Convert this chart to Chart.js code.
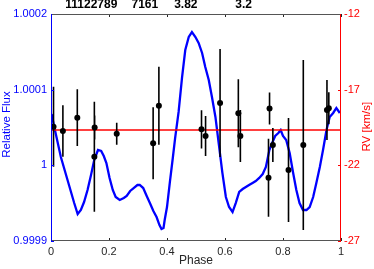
<!DOCTYPE html>
<html><head><meta charset="utf-8">
<script src="https://cdn.jsdelivr.net/npm/chart.js@4/dist/chart.umd.min.js"></script>
<style>html,body{margin:0;padding:0;background:#fff}canvas{display:block}</style>
</head><body>
<canvas id="c" width="374" height="269"></canvas>
<script>
const fluxPhase = [0.002,0.012,0.034,0.057,0.080,0.092,0.103,0.114,0.126,0.138,0.149,0.162,0.173,0.182,0.191,0.202,0.213,0.223,0.237,0.251,0.261,0.273,0.285,0.298,0.306,0.318,0.330,0.341,0.353,0.364,0.374,0.381,0.388,0.392,0.400,0.410,0.420,0.428,0.440,0.452,0.463,0.475,0.486,0.498,0.509,0.521,0.532,0.544,0.555,0.567,0.579,0.591,0.603,0.614,0.626,0.637,0.649,0.661,0.672,0.683,0.695,0.706,0.718,0.730,0.741,0.753,0.764,0.773,0.784,0.792,0.800,0.811,0.823,0.835,0.846,0.857,0.869,0.881,0.892,0.904,0.915,0.927,0.938,0.950,0.961,0.973,0.984,0.996];
const fluxValues = [1.0000678,1.0000493,1.0000110,0.9999806,0.9999502,0.9999357,0.9999410,0.9999515,0.9999674,0.9999872,1.0000070,1.0000203,1.0000189,1.0000123,1.0000031,0.9999833,0.9999674,0.9999581,0.9999542,0.9999568,0.9999595,0.9999661,0.9999700,0.9999740,0.9999740,0.9999700,0.9999595,0.9999502,0.9999396,0.9999317,0.9999211,0.9999159,0.9999172,0.9999278,0.9999449,0.9999780,1.0000097,1.0000361,1.0000705,1.0001167,1.0001524,1.0001696,1.0001762,1.0001696,1.0001617,1.0001485,1.0001299,1.0001128,1.0000903,1.0000639,1.0000269,0.9999899,0.9999581,0.9999449,0.9999383,0.9999502,0.9999648,0.9999687,0.9999714,0.9999740,0.9999767,0.9999793,0.9999833,0.9999885,0.9999978,1.0000203,1.0000308,1.0000388,1.0000427,1.0000467,1.0000388,1.0000335,1.0000163,0.9999899,0.9999674,0.9999502,0.9999410,0.9999410,0.9999449,0.9999581,0.9999767,0.9999978,1.0000203,1.0000467,1.0000639,1.0000692,1.0000758,1.0000692];
const rvPhase = [0.0087,0.041,0.0907,0.1505,0.1495,0.2266,0.3522,0.372,0.519,0.533,0.583,0.646,0.653,0.7536,0.750,0.765,0.819,0.870,0.9516,0.958];
const rvValues = [-19.45,-19.73,-18.85,-19.50,-21.43,-19.91,-20.54,-18.06,-19.62,-20.06,-17.88,-18.56,-20.06,-18.24,-22.82,-20.66,-22.31,-20.66,-18.34,-18.23];
const rvErrors = [2.64,1.70,1.88,0.79,3.63,0.73,2.38,2.58,1.26,1.32,3.57,2.25,1.72,1.06,2.58,1.12,3.44,5.62,1.98,1.06];
const rvMean = -19.67;
const fluxTicks = [0.9999, 1, 1.0001, 1.0002];
const fluxTickLabels = ['0.9999', '1', '1.0001', '1.0002'];
const rvTicks = [-27, -22, -17, -12];
const rvTickLabels = ['-27', '-22', '-17', '-12'];
const phaseTicks = [0, 0.2, 0.4, 0.6, 0.8, 1];
const phaseTickLabels = ['0', '0.2', '0.4', '0.6', '0.8', '1'];
const topTickPos = [0.139, 0.3235, 0.465, 0.664];
const topTickLabels = ['11122789', '7161', '3.82', '3.2'];

Chart.defaults.font.family = '"Liberation Sans", Arial, sans-serif';

const errData = [];
rvPhase.forEach((p, i) => {
  errData.push({x: p, y: rvValues[i] - rvErrors[i]}, {x: p, y: rvValues[i] + rvErrors[i]}, {x: p, y: null});
});

const BLUE = '#0000ff', RED = '#ff0000', GRAY = '#262626';

const frame = {
  id: 'frame',
  afterDatasetsDraw(chart) {
    const {ctx, chartArea: a, scales} = chart;
    ctx.save();
    ctx.lineWidth = 1;
    const L = 3;
    ctx.strokeStyle = GRAY;
    phaseTicks.forEach(v => {
      const x = Math.round(scales.x.getPixelForValue(v)) + 0.5;
      ctx.beginPath(); ctx.moveTo(x, a.bottom); ctx.lineTo(x, a.bottom - L); ctx.stroke();
      ctx.beginPath(); ctx.moveTo(x, a.top); ctx.lineTo(x, a.top + L); ctx.stroke();
    });
    ctx.strokeStyle = BLUE;
    fluxTicks.forEach(v => {
      const y = Math.round(scales.y.getPixelForValue(v)) + 0.5;
      ctx.beginPath(); ctx.moveTo(a.left, y); ctx.lineTo(a.left + L, y); ctx.stroke();
    });
    ctx.strokeStyle = RED;
    rvTicks.forEach(v => {
      const y = Math.round(scales.y2.getPixelForValue(v)) + 0.5;
      ctx.beginPath(); ctx.moveTo(a.right, y); ctx.lineTo(a.right - L, y); ctx.stroke();
    });
    ctx.strokeStyle = '#555';
    ctx.beginPath(); ctx.moveTo(a.left, a.top + 0.5); ctx.lineTo(a.right, a.top + 0.5); ctx.stroke();
    ctx.beginPath(); ctx.moveTo(a.left, a.bottom - 0.5); ctx.lineTo(a.right, a.bottom - 0.5); ctx.stroke();
    ctx.strokeStyle = BLUE;
    ctx.beginPath(); ctx.moveTo(a.left + 0.5, a.top); ctx.lineTo(a.left + 0.5, a.bottom); ctx.stroke();
    ctx.strokeStyle = RED;
    ctx.beginPath(); ctx.moveTo(a.right - 0.5, a.top); ctx.lineTo(a.right - 0.5, a.bottom); ctx.stroke();
    ctx.font = '11.5px "Liberation Sans", Arial, sans-serif';
    ctx.textAlign = 'center'; ctx.textBaseline = 'middle';
    ctx.fillStyle = BLUE;
    ctx.save(); ctx.translate(6.5, 124.5); ctx.rotate(-Math.PI / 2); ctx.fillText('Relative Flux', 0, 0); ctx.restore();
    ctx.fillStyle = RED;
    ctx.save(); ctx.translate(366.5, 126.7); ctx.rotate(-Math.PI / 2); ctx.fillText('RV [km/s]', 0, 0); ctx.restore();
    ctx.fillStyle = GRAY;
    ctx.font = '12px "Liberation Sans", Arial, sans-serif';
    ctx.fillText('Phase', (a.left + a.right) / 2, 261);
    ctx.restore();
  }
};

function fixedTicks(vals) { return s => { s.ticks = vals.map(v => ({value: v})); }; }

new Chart(document.getElementById('c'), {
  type: 'line',
  data: {datasets: [
    {label: 'RV', data: rvPhase.map((p, i) => ({x: p, y: rvValues[i]})), yAxisID: 'y2', xAxisID: 'x', showLine: false,
     pointRadius: 3, pointBackgroundColor: '#000', pointBorderColor: '#000', pointBorderWidth: 0},
    {label: 'err', data: errData, yAxisID: 'y2', xAxisID: 'x', borderColor: '#000', borderWidth: 1.6, pointRadius: 0, spanGaps: false},
    {label: 'mean', data: [{x: 0, y: rvMean}, {x: 1, y: rvMean}], yAxisID: 'y2', xAxisID: 'x', borderColor: RED, borderWidth: 1.5, pointRadius: 0},
    {label: 'flux', data: fluxPhase.map((p, i) => ({x: p, y: fluxValues[i]})), yAxisID: 'y', xAxisID: 'x', borderColor: BLUE, borderWidth: 2.3, pointRadius: 0, tension: 0}
  ]},
  options: {
    responsive: false, animation: false, devicePixelRatio: 1,
    layout: {padding: 0},
    plugins: {legend: {display: false}, tooltip: {enabled: false}},
    scales: {
      x: {type: 'linear', position: 'bottom', min: 0, max: 1, afterBuildTicks: fixedTicks(phaseTicks),
          ticks: {callback: (v, i) => phaseTickLabels[i], color: GRAY, font: {size: 11}, padding: 4, maxRotation: 0, autoSkip: false},
          grid: {display: false, drawTicks: false}, border: {display: false}, afterFit: s => { s.height = 28; }},
      xTop: {type: 'linear', position: 'top', min: 0, max: 1, afterBuildTicks: fixedTicks(topTickPos),
          ticks: {callback: (v, i) => topTickLabels[i], color: '#000', font: {size: 12, weight: 'bold'}, padding: 2, maxRotation: 0, autoSkip: false},
          grid: {display: false, drawTicks: false}, border: {display: false}, afterFit: s => { s.height = 14; }},
      y: {type: 'linear', position: 'left', min: 0.9999, max: 1.0002, afterBuildTicks: fixedTicks(fluxTicks),
          ticks: {callback: (v, i) => fluxTickLabels[i], color: BLUE, font: {size: 11}, padding: 4, autoSkip: false},
          grid: {display: false, drawTicks: false}, border: {display: false}, afterFit: s => { s.width = 51; }},
      y2: {type: 'linear', position: 'right', min: -27, max: -12, afterBuildTicks: fixedTicks(rvTicks),
          ticks: {callback: (v, i) => rvTickLabels[i], color: RED, font: {size: 11}, padding: 3, autoSkip: false},
          grid: {display: false, drawTicks: false}, border: {display: false}, afterFit: s => { s.width = 33; }}
    }
  },
  plugins: [frame]
});
</script>
</body></html>
